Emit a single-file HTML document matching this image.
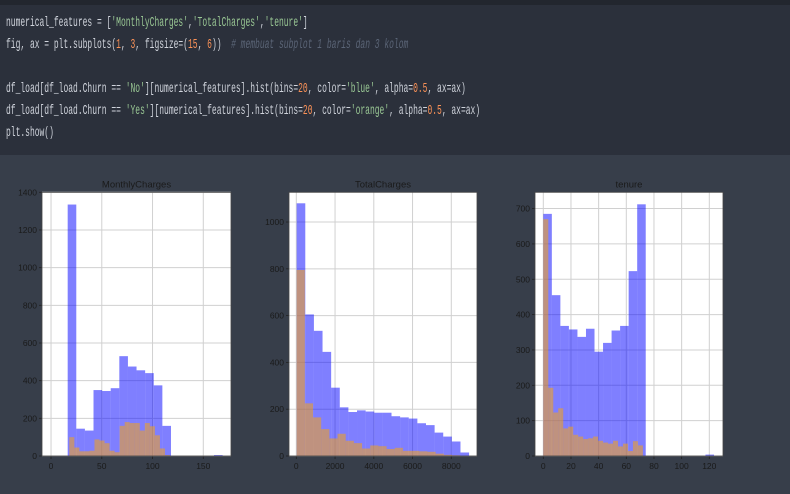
<!DOCTYPE html>
<html><head><meta charset="utf-8">
<style>
body{margin:0;width:790px;height:494px;overflow:hidden;background:#373e4a;font-family:"Liberation Sans",sans-serif}
#code{position:absolute;left:0;top:0;width:790px;height:155px;background:#2b303b;border-top:5px solid #22262e;box-sizing:border-box}
.ln{position:absolute;left:6px;font-family:"Liberation Mono",monospace;font-size:14px;color:#d0d4dc;white-space:pre;transform:scaleX(0.57);transform-origin:0 0}
.s{color:#99c794}.n{color:#f99157}.c{color:#5b6577;font-style:italic}
svg{position:absolute;left:0;top:0}
</style></head><body>
<div id="code">
<div class="ln" style="top:10px">numerical_features = [<span class="s">'MonthlyCharges'</span>,<span class="s">'TotalCharges'</span>,<span class="s">'tenure'</span>]</div>
<div class="ln" style="top:32px">fig, ax = plt.subplots(<span class="n">1</span>, <span class="n">3</span>, figsize=(<span class="n">15</span>, <span class="n">6</span>))  <span class="c"># membuat subplot 1 baris dan 3 kolom</span></div>
<div class="ln" style="top:76px">df_load[df_load.Churn == <span class="s">'No'</span>][numerical_features].hist(bins=<span class="n">20</span>, color=<span class="s">'blue'</span>, alpha=<span class="n">0.5</span>, ax=ax)</div>
<div class="ln" style="top:98px">df_load[df_load.Churn == <span class="s">'Yes'</span>][numerical_features].hist(bins=<span class="n">20</span>, color=<span class="s">'orange'</span>, alpha=<span class="n">0.5</span>, ax=ax)</div>
<div class="ln" style="top:120px">plt.show()</div>
</div>
<svg id="chart" width="790" height="494"></svg>
<script>
// MonthlyCharges
const mcTitle = "MonthlyCharges";
const mcBlueStart = 16.4, mcBlueWidth = 8.48;
const mcBlue = [1335,145,135,350,345,360,530,475,455,440,375,160,0,0,0,0,0,5,0,0];
const mcOrangeStart = 18.0, mcOrangeWidth = 4.96;
const mcOrange = [100,45,25,25,28,88,82,68,28,20,160,180,175,175,135,175,158,110,40,5];
const mcXTicks = [0,50,100,150];
const mcYTicks = [0,200,400,600,800,1000,1200,1400];
// TotalCharges
const tcTitle = "TotalCharges";
const tcBlueStart = 18.8, tcBlueWidth = 445;
const tcBlue = [1080,605,535,445,292,208,188,195,190,185,185,170,165,160,140,132,100,83,62,15];
const tcOrangeStart = 18.8, tcOrangeWidth = 422;
const tcOrange = [795,225,165,115,75,95,65,55,32,45,42,30,35,22,22,20,18,10,5,3];
const tcXTicks = [0,2000,4000,6000,8000];
const tcYTicks = [0,200,400,600,800,1000];
// tenure
const tnTitle = "tenure";
const tnBlueStart = 0, tnBlueWidth = 6.17;
const tnBlue = [685,455,368,358,337,360,295,320,355,368,523,712,0,0,0,0,0,0,0,4];
const tnOrangeStart = 0, tnOrangeWidth = 3.6;
const tnOrange = [670,193,123,135,78,83,60,55,48,50,55,43,38,35,43,27,35,14,42,30];
const tnXTicks = [0,20,40,60,80,100,120];
const tnYTicks = [0,100,200,300,400,500,600,700];

const NS="http://www.w3.org/2000/svg";
const svg=document.getElementById('chart');
function mk(tag,attrs,parent){const e=document.createElementNS(NS,tag);for(const k in attrs)e.setAttribute(k,attrs[k]);(parent||svg).appendChild(e);return e;}

function panel(key,title,box,xmin,xmax,ymax,blue,bs,bw,orange,os,ow,xt,yt){
  const g=mk('g',{});
  
  
  const X=v=>box.x0+(v-xmin)/(xmax-xmin)*(box.x1-box.x0);
  const Y=v=>box.y1-v/ymax*(box.y1-box.y0);
  const bg=mk('rect',{x:box.x0,y:box.y0,width:box.x1-box.x0,height:box.y1-box.y0,fill:'#fff'},g);
  
  
  xt.forEach(t=>{
    const l=mk('line',{x1:X(t),x2:X(t),y1:box.y0,y2:box.y1,stroke:'#d0d0d0','stroke-width':1},g);
    
    
    const tx=mk('text',{x:X(t),y:box.y1+13,'font-size':8.5,fill:'#1a1a1a','text-anchor':'middle'},g);
    tx.textContent=t;
    
    
    mk('line',{x1:X(t),x2:X(t),y1:box.y1,y2:box.y1+3,stroke:'#222','stroke-width':0.8},g);
  });
  yt.forEach(t=>{
    const l=mk('line',{x1:box.x0,x2:box.x1,y1:Y(t),y2:Y(t),stroke:'#d0d0d0','stroke-width':1},g);
    
    
    const tx=mk('text',{x:box.x0-5,y:Y(t)+3,'font-size':8.5,fill:'#1a1a1a','text-anchor':'end'},g);
    tx.textContent=t;
    
    
    mk('line',{x1:box.x0-3,x2:box.x0,y1:Y(t),y2:Y(t),stroke:'#222','stroke-width':0.8},g);
  });
  blue.forEach((v,i)=>{ if(!v)return;
    const r=mk('rect',{x:X(bs+i*bw),y:Y(v),width:X(bs+(i+1)*bw)-X(bs+i*bw),height:Y(0)-Y(v),fill:'#0000ff','fill-opacity':0.5},g);
    
    
  });
  orange.forEach((v,i)=>{ if(!v)return;
    const r=mk('rect',{x:X(os+i*ow),y:Y(v),width:X(os+(i+1)*ow)-X(os+i*ow),height:Y(0)-Y(v),fill:'#ffa500','fill-opacity':0.5},g);
    
    
  });
  const fr=mk('rect',{x:box.x0,y:box.y0,width:box.x1-box.x0,height:box.y1-box.y0,fill:'none',stroke:'#444','stroke-width':0.8},g);
  
  
  const tt=mk('text',{x:(box.x0+box.x1)/2,y:box.y0-5,'font-size':9.5,fill:'#1a1a1a','text-anchor':'middle'},g);
  tt.textContent=title;
  
  
}
panel('monthly-charges',mcTitle,{x0:42,x1:231,y0:192.3,y1:456},-8.9,177.3,1400,mcBlue,mcBlueStart,mcBlueWidth,mcOrange,mcOrangeStart,mcOrangeWidth,mcXTicks,mcYTicks);
panel('total-charges',tcTitle,{x0:289,x1:477,y0:192.3,y1:456},-377,9327,1127,tcBlue,tcBlueStart,tcBlueWidth,tcOrange,tcOrangeStart,tcOrangeWidth,tcXTicks,tcYTicks);
panel('tenure',tnTitle,{x0:535,x1:723,y0:192.3,y1:456},-6,129.9,746,tnBlue,tnBlueStart,tnBlueWidth,tnOrange,tnOrangeStart,tnOrangeWidth,tnXTicks,tnYTicks);
</script>
</body></html>
